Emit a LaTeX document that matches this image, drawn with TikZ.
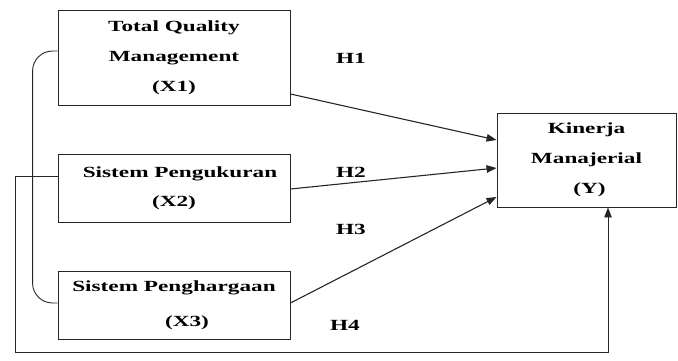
\documentclass[tikz,border=0pt]{standalone}
\usepackage{fontspec}
\setmainfont{Liberation Serif}[FakeStretch=1.5]
\usetikzlibrary{arrows.meta}
\begin{document}
\begin{tikzpicture}[x=1pt,y=-1pt,
  varbox/.style={draw=black!85,line width=0.9pt,align=center,inner sep=0pt,
    font=\bfseries\fontsize{15.5}{30}\selectfont},
  hlabel/.style={font=\bfseries\fontsize{15.5}{18}\selectfont,inner sep=0pt},
  link/.style={line width=1.1pt,black!85,-{Triangle[length=10pt,width=7.5pt]}},
  plain/.style={line width=0.9pt,black!85}]
\useasboundingbox (0,0) rectangle (678,361);
\node[varbox,minimum width=232pt,minimum height=95pt] (x1) at (174,57.5)
  {Total Quality\\Management\\(X1)};
\node[varbox,minimum width=232pt,minimum height=68pt,font=\bfseries\fontsize{15.5}{29}\selectfont] (x2) at (174,188)
  {\hspace*{12pt}Sistem Pengukuran\\(X2)};
\node[varbox,minimum width=232pt,minimum height=68pt,font=\bfseries\fontsize{15.5}{35}\selectfont] (x3) at (174,305)
  {Sistem Penghargaan\\\hspace*{26pt}(X3)};
\node[varbox,minimum width=179pt,minimum height=94pt] (y) at (586.5,160)
  {Kinerja\\Manajerial\\\hspace*{6pt}(Y)};
\node[hlabel] (h1) at (351,58) {H1};
\node[hlabel] (h2) at (351,172) {H2};
\node[hlabel] (h3) at (351,229) {H3};
\node[hlabel] (h4) at (345,325) {H4};
\draw[link] ([yshift=-36.5pt]x1.east) -- ([yshift=20pt]y.west);
\draw[link] ([yshift=-1pt]x2.east) -- ([yshift=-8pt]y.west);
\draw[link] ([yshift=2pt]x3.east) -- ([yshift=-37pt]y.west);
\draw[plain,rounded corners=20pt] ([yshift=6.5pt]x1.west) -- ++(-25,0) |- ([yshift=2pt]x3.west);
\coordinate (loopcorner) at (15,352);
\draw[link,line width=0.9pt] ([yshift=12pt]x2.west) -| (loopcorner) -| ([xshift=21.5pt]y.south);
\end{tikzpicture}
\end{document}
